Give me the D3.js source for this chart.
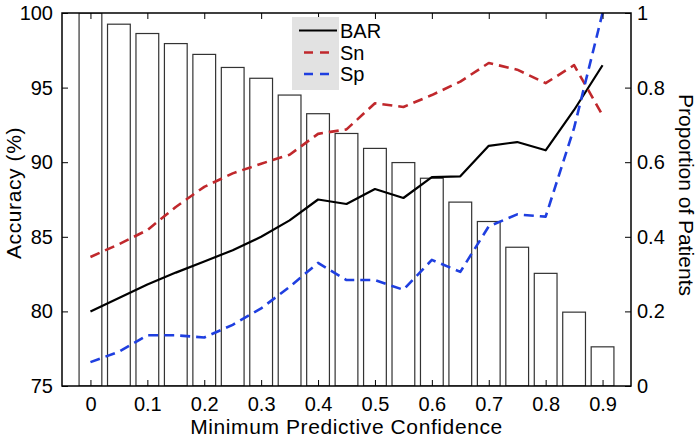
<!DOCTYPE html>
<html>
<head>
<meta charset="utf-8">
<script src="https://cdn.jsdelivr.net/npm/d3@7"></script>
<style>
  html, body { margin: 0; padding: 0; background: #fff; }
  svg { display: block; font-family: "Liberation Sans", Arial, Helvetica, sans-serif; }
</style>
</head>
<body>
<svg id="chart" width="700" height="440"></svg>
<script>
// ---- data ----
const confidence = [0, 0.05, 0.1, 0.15, 0.2, 0.25, 0.3, 0.35, 0.4, 0.45,
                    0.5, 0.55, 0.6, 0.65, 0.7, 0.75, 0.8, 0.85, 0.9];
const proportion = [1.0, 0.970, 0.945, 0.918, 0.889, 0.854, 0.825, 0.780, 0.730, 0.677,
                    0.637, 0.599, 0.557, 0.493, 0.441, 0.372, 0.302, 0.198, 0.105];
const barAcc = [80.0, 80.9, 81.8, 82.6, 83.35, 84.1, 85.0, 86.1, 87.5, 87.2,
                88.2, 87.6, 89.0, 89.05, 91.1, 91.35, 90.8, 93.5, 96.5];
const snAcc  = [83.65, 84.5, 85.45, 87.0, 88.35, 89.25, 89.9, 90.5, 91.9, 92.2,
                93.95, 93.7, 94.5, 95.4, 96.65, 96.2, 95.3, 96.5, 93.15];
const spAcc  = [76.6, 77.3, 78.4, 78.4, 78.25, 79.1, 80.2, 81.65, 83.25, 82.1,
                82.1, 81.45, 83.45, 82.65, 85.7, 86.5, 86.35, 92.3, 100];
const xTicks = [0, 0.1, 0.2, 0.3, 0.4, 0.5, 0.6, 0.7, 0.8, 0.9];
const yLeftTicks = [75, 80, 85, 90, 95, 100];
const yRightTicks = [0, 0.2, 0.4, 0.6, 0.8, 1];
const seriesNames = ["BAR", "Sn", "Sp"];

// ---- layout ----
const svg = d3.select("#chart");
const L = 62, R = 631, T = 13, B = 386;
const fs = 20;

const x = d3.scaleLinear().domain([-0.05, 0.95]).range([L, R]);
const yL = d3.scaleLinear().domain([75, 100]).range([B, T]);
const yR = d3.scaleLinear().domain([0, 1]).range([B, T]);

svg.append("defs").append("clipPath").attr("id", "plotclip")
  .append("rect").attr("x", L).attr("y", T).attr("width", R - L).attr("height", B - T);

const plot = svg.append("g").attr("clip-path", "url(#plotclip)");

// bars
const bw = x(0.04) - x(0);
plot.selectAll("rect.bar").data(confidence).enter().append("rect")
  .attr("class", "bar")
  .attr("x", d => x(d) - bw / 2)
  .attr("width", bw)
  .attr("y", (d, i) => yR(proportion[i]))
  .attr("height", (d, i) => yR(0) - yR(proportion[i]))
  .attr("fill", "#fff")
  .attr("stroke", "#333")
  .attr("stroke-width", 1.2);

// lines
const series = [
  { name: seriesNames[0], vals: barAcc, color: "#000000", dash: null, w: 2.2 },
  { name: seriesNames[1], vals: snAcc, color: "#c0282c", dash: "10,6", w: 2.6 },
  { name: seriesNames[2], vals: spAcc, color: "#1f3fe0", dash: "10,6", w: 2.6 }
];
const line = d3.line().x(d => x(d[0])).y(d => yL(d[1]));
series.forEach(s => {
  plot.append("path")
    .attr("d", line(confidence.map((c, i) => [c, s.vals[i]])))
    .attr("fill", "none")
    .attr("stroke", s.color)
    .attr("stroke-width", s.w)
    .attr("stroke-dasharray", s.dash)
    .attr("stroke-linejoin", "round");
});

// axes
const tickLen = 6;
const axisL = svg.append("g").attr("transform", `translate(${L},0)`)
  .call(d3.axisLeft(yL).tickValues(yLeftTicks).tickSize(-tickLen).tickPadding(9).tickFormat(d3.format("d")));
const axisR = svg.append("g").attr("transform", `translate(${R},0)`)
  .call(d3.axisRight(yR).tickValues(yRightTicks).tickSize(-tickLen).tickPadding(6).tickFormat(d => String(d)));
const axisB = svg.append("g").attr("transform", `translate(0,${B})`)
  .call(d3.axisBottom(x).tickValues(xTicks).tickSize(-tickLen).tickPadding(11).tickFormat(d => String(d)));
const axisT = svg.append("g").attr("transform", `translate(0,${T})`)
  .call(d3.axisTop(x).tickValues(xTicks).tickSize(-tickLen).tickFormat(""));

[axisL, axisR, axisB, axisT].forEach(a => {
  a.select(".domain").remove();
  a.selectAll(".tick line").attr("stroke", "#000").attr("stroke-width", 1);
  a.selectAll(".tick text").attr("font-size", fs).attr("fill", "#000")
    .attr("font-family", "'Liberation Sans', Arial, Helvetica, sans-serif");
});

// frame
svg.append("rect").attr("x", L).attr("y", T).attr("width", R - L).attr("height", B - T)
  .attr("fill", "none").attr("stroke", "#000").attr("stroke-width", 1.5);

// axis labels
svg.append("text").attr("transform", `translate(20.5,193) rotate(-90)`)
  .attr("text-anchor", "middle").attr("font-size", 21).attr("letter-spacing", 0.6).text("Accuracy (%)");
svg.append("text").attr("transform", `translate(679,195) rotate(90)`)
  .attr("text-anchor", "middle").attr("font-size", 21).text("Proportion of Patients");
svg.append("text").attr("x", (L + R) / 2).attr("y", 434)
  .attr("text-anchor", "middle").attr("font-size", 21).attr("letter-spacing", 0.6).text("Minimum Predictive Confidence");

// legend
const lg = svg.append("g");
lg.append("rect").attr("x", 292).attr("y", 17).attr("width", 47).attr("height", 73).attr("fill", "#e2e2e2");
const legY = [30.5, 52.5, 74];
series.forEach((s, i) => {
  const x0 = s.dash ? 304 : 299, x1 = s.dash ? 331 : 337;
  lg.append("line").attr("x1", x0).attr("x2", x1).attr("y1", legY[i]).attr("y2", legY[i])
    .attr("stroke", s.color).attr("stroke-width", s.w).attr("stroke-dasharray", s.dash ? "9,7" : null);
  lg.append("text").attr("x", 340).attr("y", legY[i] + 7).attr("font-size", fs).text(s.name);
});
</script>
</body>
</html>
